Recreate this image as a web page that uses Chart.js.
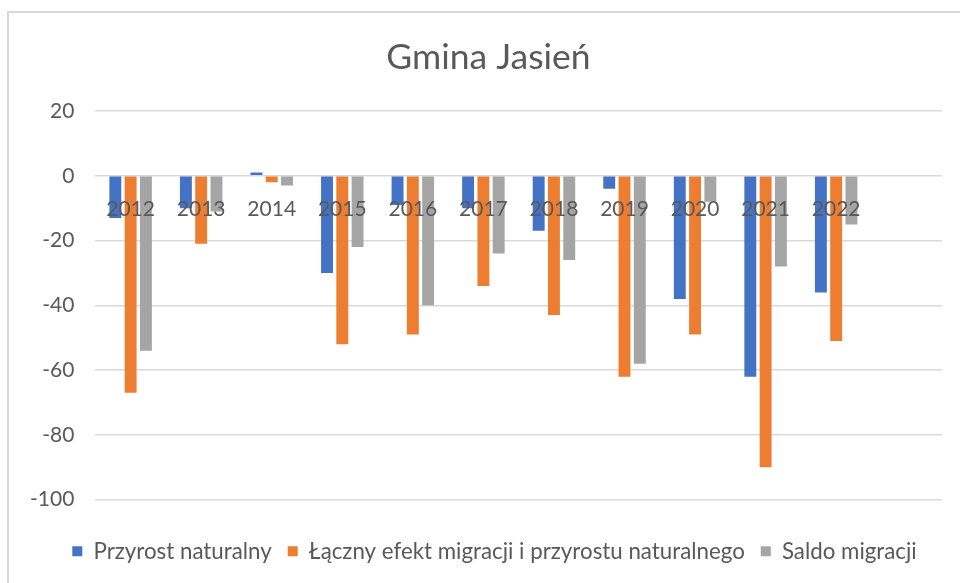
<!DOCTYPE html>
<html lang="pl">
<head>
<meta charset="UTF-8">
<title>Gmina Jasień</title>
<script src="https://cdn.jsdelivr.net/npm/chart.js@4"></script>
<style>
  html, body { margin: 0; padding: 0; background: #fff; }
  #wrap { position: relative; width: 960px; height: 583px; overflow: hidden; }
  #frame { position: absolute; left: 7px; top: 11px; width: 980px; height: 600px; border: 2px solid #d9d9d9; box-sizing: border-box; }
  canvas { position: absolute; left: 0; top: 0; }
</style>
</head>
<body>
<div id="wrap">
  <div id="frame"></div>
  <canvas id="chart" width="960" height="583"></canvas>
</div>
<script>
// values
const years = ['2012', '2013', '2014', '2015', '2016', '2017', '2018', '2019', '2020', '2021', '2022'];
const przyrost = [-13, -10, 1, -30, -9, -10, -17, -4, -38, -62, -36];
const lacznyEfekt = [-67, -21, -2, -52, -49, -34, -43, -62, -49, -90, -51];
const saldo = [-54, -11, -3, -22, -40, -24, -26, -58, -8, -28, -15];
const yTicks = [20, 0, -20, -40, -60, -80, -100];

const textColor = '#595959';
const fontFamily = 'Lato, "Open Sans", sans-serif';

// the source sheet has one empty category after 2022
const labels = years.concat(['']);

// the title and legend are centred on the whole frame, not on the padded canvas
const shiftBoxes = {
  id: 'shiftBoxes',
  afterLayout(chart) {
    if (chart.titleBlock) { chart.titleBlock.left += 13; chart.titleBlock.right += 13; }
    if (chart.legend) { chart.legend.left += 19; chart.legend.right += 19; }
  }
};

new Chart(document.getElementById('chart'), {
  type: 'bar',
  data: {
    labels: labels,
    datasets: [
      { label: 'Przyrost naturalny', data: przyrost, backgroundColor: '#4472C4' },
      { label: 'Łączny efekt migracji i przyrostu naturalnego', data: lacznyEfekt, backgroundColor: '#ED7D31' },
      { label: 'Saldo migracji', data: saldo, backgroundColor: '#A5A5A5' }
    ]
  },
  plugins: [shiftBoxes],
  options: {
    responsive: false,
    animation: false,
    events: [],
    categoryPercentage: 0.65,
    barPercentage: 0.78,
    layout: { padding: { left: 9, right: 18, top: 12, bottom: 10.5 } },
    scales: {
      x: {
        position: { y: 0 },
        grid: { display: false, drawTicks: false },
        border: { display: false },
        ticks: { z: 1, color: textColor, padding: 21, font: { family: fontFamily, size: 21 } }
      },
      y: {
        min: Math.min(...yTicks),
        max: Math.max(...yTicks),
        afterBuildTicks: s => { s.ticks = yTicks.map(v => ({ value: v })); },
        grid: { color: '#d9d9d9', lineWidth: 1.5, drawTicks: false },
        border: { display: false },
        ticks: { color: textColor, padding: 21, font: { family: fontFamily, size: 21 } }
      }
    },
    plugins: {
      tooltip: { enabled: false },
      title: {
        display: true,
        text: 'Gmina Jasień',
        color: textColor,
        font: { family: fontFamily, size: 35.5, weight: 'normal' },
        padding: { top: 24.7, bottom: 31.7 }
      },
      legend: {
        position: 'bottom',
        title: { display: true, text: '', padding: 0, font: { size: 20.4 } },
        labels: {
          color: textColor,
          boxWidth: 10,
          boxHeight: 10,
          padding: 16,
          font: { family: fontFamily, size: 22.3 }
        }
      }
    }
  }
});
</script>
</body>
</html>
